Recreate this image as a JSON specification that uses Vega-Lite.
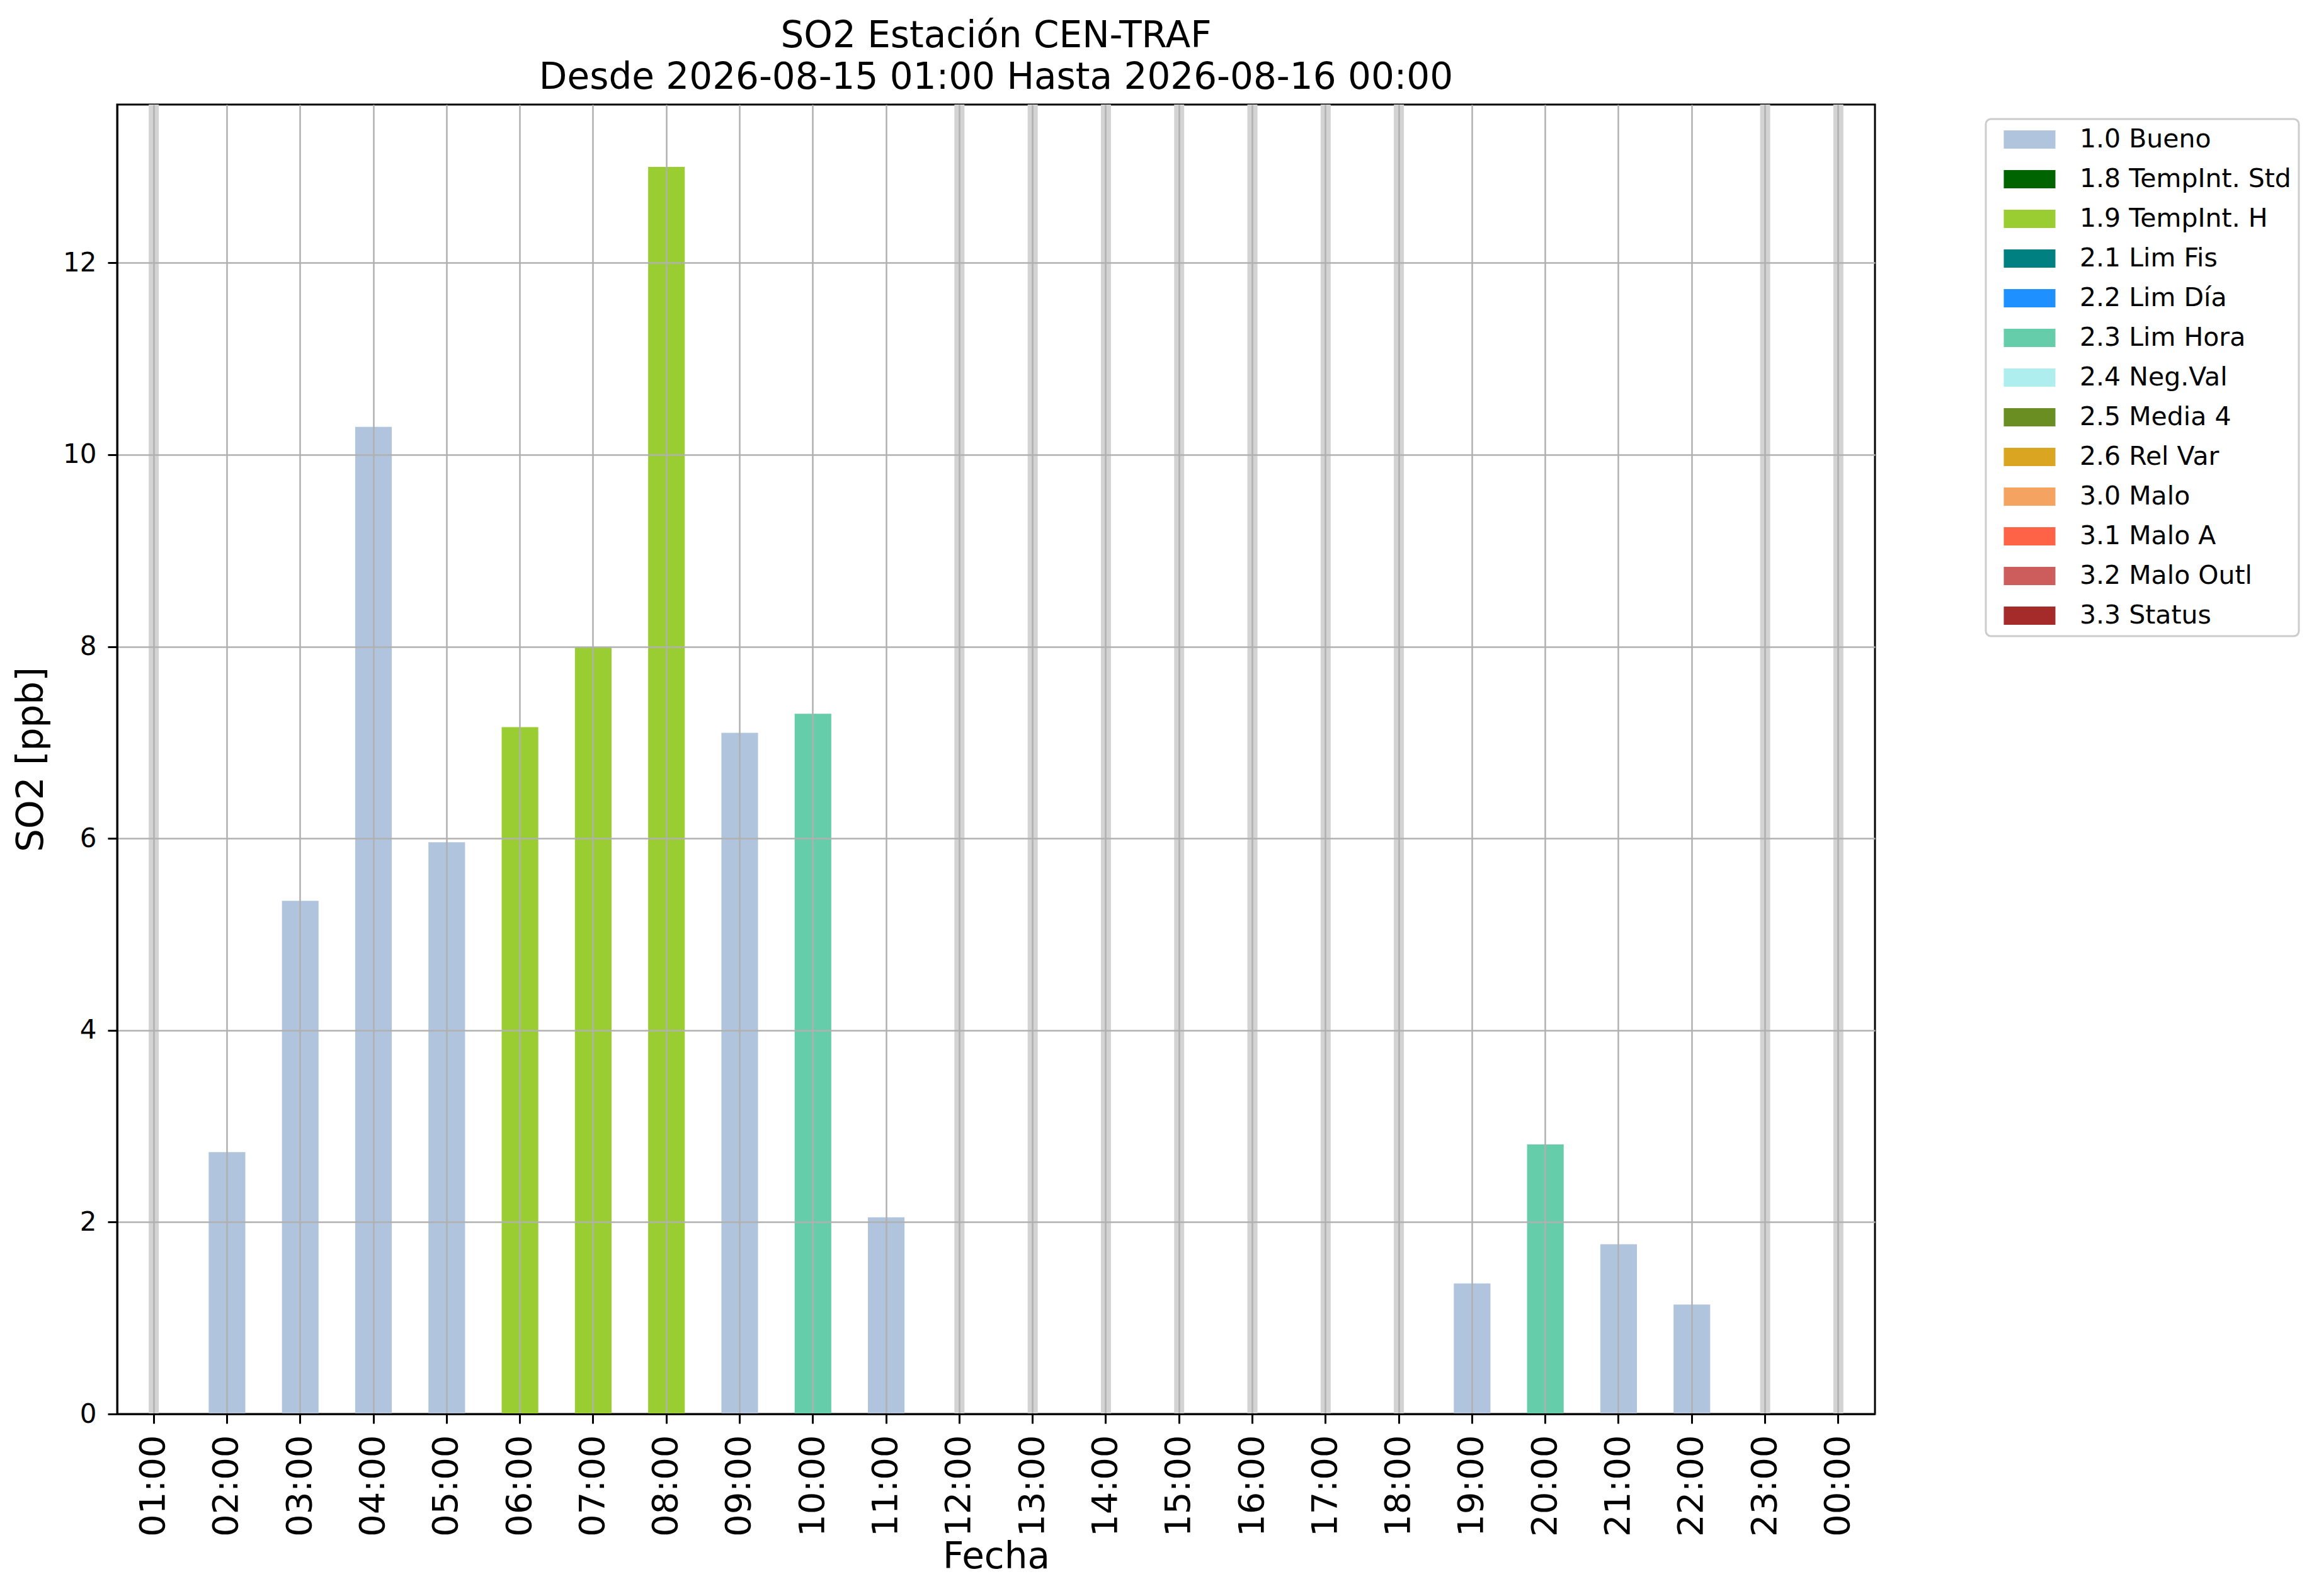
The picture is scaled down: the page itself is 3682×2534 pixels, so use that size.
{
  "$schema": "https://vega.github.io/schema/vega-lite/v6.json",
  "width": 2791,
  "height": 2079,
  "autosize": {"type": "none"},
  "padding": {"left": 186, "top": 166, "right": 705, "bottom": 289},
  "background": "white",
  "config": {
    "font": "DejaVu Sans",
    "view": {"stroke": "black", "strokeWidth": 3},
    "axis": {
      "domainColor": "black",
      "domainWidth": 3,
      "tickColor": "black",
      "tickWidth": 3,
      "tickSize": 15,
      "gridColor": "#b0b0b0",
      "gridWidth": 2.5,
      "gridOpacity": 1,
      "labelColor": "black",
      "titleColor": "black",
      "titleFontWeight": "normal",
      "titleFontSize": 58,
      "zindex": 1
    }
  },
  "title": {
    "text": ["SO2 Estación CEN-TRAF", "Desde 2026-08-15 01:00 Hasta 2026-08-16 00:00"],
    "fontSize": 58,
    "fontWeight": "normal",
    "lineHeight": 66,
    "anchor": "middle",
    "frame": "group",
    "baseline": "bottom",
    "offset": -53,
    "color": "black"
  },
  "data": {
    "values": [
      {"hour": "01:00", "so2": null, "flag": null},
      {"hour": "02:00", "so2": 2.73, "flag": "1.0 Bueno"},
      {"hour": "03:00", "so2": 5.35, "flag": "1.0 Bueno"},
      {"hour": "04:00", "so2": 10.29, "flag": "1.0 Bueno"},
      {"hour": "05:00", "so2": 5.96, "flag": "1.0 Bueno"},
      {"hour": "06:00", "so2": 7.16, "flag": "1.9 TempInt. H"},
      {"hour": "07:00", "so2": 7.99, "flag": "1.9 TempInt. H"},
      {"hour": "08:00", "so2": 13.0, "flag": "1.9 TempInt. H"},
      {"hour": "09:00", "so2": 7.1, "flag": "1.0 Bueno"},
      {"hour": "10:00", "so2": 7.3, "flag": "2.3 Lim Hora"},
      {"hour": "11:00", "so2": 2.05, "flag": "1.0 Bueno"},
      {"hour": "12:00", "so2": null, "flag": null},
      {"hour": "13:00", "so2": null, "flag": null},
      {"hour": "14:00", "so2": null, "flag": null},
      {"hour": "15:00", "so2": null, "flag": null},
      {"hour": "16:00", "so2": null, "flag": null},
      {"hour": "17:00", "so2": null, "flag": null},
      {"hour": "18:00", "so2": null, "flag": null},
      {"hour": "19:00", "so2": 1.36, "flag": "1.0 Bueno"},
      {"hour": "20:00", "so2": 2.81, "flag": "2.3 Lim Hora"},
      {"hour": "21:00", "so2": 1.77, "flag": "1.0 Bueno"},
      {"hour": "22:00", "so2": 1.14, "flag": "1.0 Bueno"},
      {"hour": "23:00", "so2": null, "flag": null},
      {"hour": "00:00", "so2": null, "flag": null}
    ]
  },
  "encoding": {
    "x": {
      "field": "hour",
      "type": "nominal",
      "sort": null,
      "scale": {
        "domain": ["01:00", "02:00", "03:00", "04:00", "05:00", "06:00", "07:00", "08:00", "09:00", "10:00", "11:00", "12:00",
                   "13:00", "14:00", "15:00", "16:00", "17:00", "18:00", "19:00", "20:00", "21:00", "22:00", "23:00", "00:00"],
        "paddingInner": 0.5,
        "paddingOuter": 0.25
      },
      "axis": {
        "title": "Fecha",
        "grid": true,
        "zindex": 1,
        "bandPosition": 0.5,
        "labelAngle": -90,
        "labelAlign": "right",
        "labelBaseline": "middle",
        "labelFontSize": 56,
        "labelPadding": 18,
        "titlePadding": 4
      }
    }
  },
  "layer": [
    {
      "transform": [{"filter": "datum.so2 == null"}],
      "mark": {"type": "rule", "color": "#d3d3d3", "strokeWidth": 16}
    },
    {
      "mark": {"type": "bar"},
      "encoding": {
        "y": {
          "field": "so2",
          "type": "quantitative",
          "scale": {"domain": [0, 13.65], "nice": false, "zero": true},
          "axis": {
            "title": "SO2 [ppb]",
            "values": [0, 2, 4, 6, 8, 10, 12],
            "grid": true,
            "zindex": 1,
            "labelFontSize": 42,
            "labelPadding": 18,
            "titlePadding": 20
          }
        },
        "color": {
          "field": "flag",
          "type": "nominal",
          "scale": {
            "domain": ["1.0 Bueno", "1.8 TempInt. Std", "1.9 TempInt. H", "2.1 Lim Fis", "2.2 Lim Día", "2.3 Lim Hora", "2.4 Neg.Val",
                       "2.5 Media 4", "2.6 Rel Var", "3.0 Malo", "3.1 Malo A", "3.2 Malo Outl", "3.3 Status"],
            "range": ["#b0c4de", "#006400", "#9acd32", "#008080", "#1e90ff", "#66cdaa", "#afeeee",
                      "#6b8e23", "#daa520", "#f4a460", "#ff6347", "#cd5c5c", "#a52a2a"]
          },
          "legend": {
            "title": null,
            "orient": "none",
            "legendX": 2967,
            "legendY": 23,
            "padding": 12,
            "rowPadding": 21,
            "labelFontSize": 41,
            "labelColor": "black",
            "labelOffset": 96,
            "labelLimit": 1000,
            "symbolType": "M-0.4,-1.45H7.8V1.45H-0.4Z",
            "symbolSize": 400,
            "symbolStrokeWidth": 0,
            "symbolOpacity": 1,
            "fillColor": "white",
            "strokeColor": "#cccccc",
            "cornerRadius": 8,
            "encode": {"legend": {"update": {"strokeWidth": {"value": 3}}}}
          }
        }
      }
    }
  ]
}
